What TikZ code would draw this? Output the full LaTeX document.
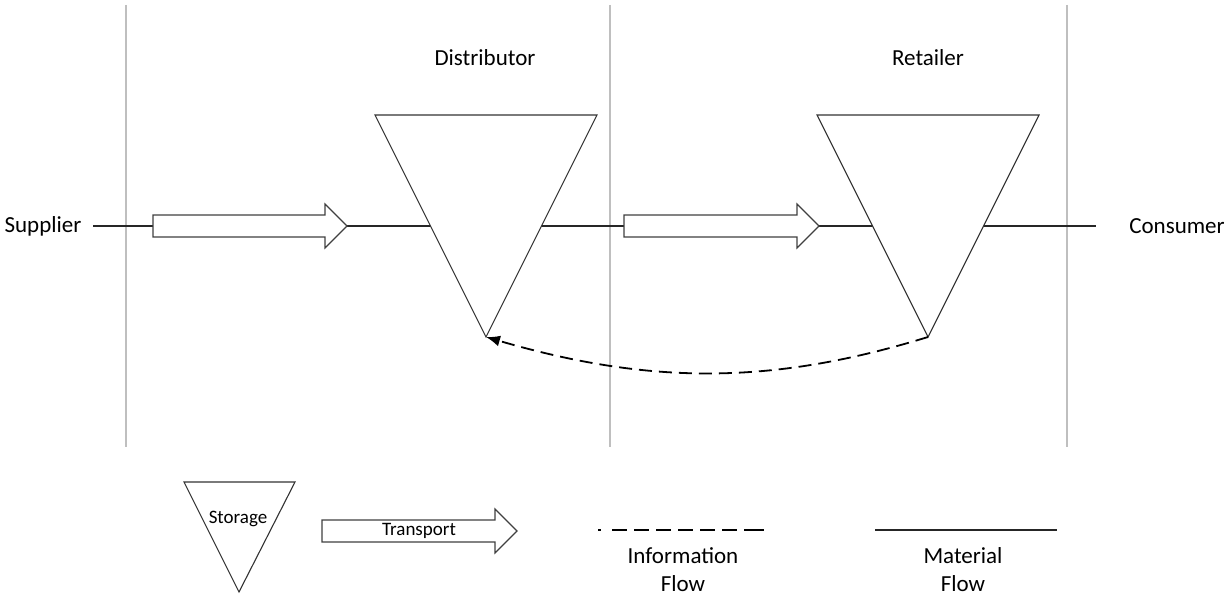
\documentclass[tikz,border=0pt]{standalone}
\usepackage{fontspec}
\setmainfont{Carlito}
\usetikzlibrary{arrows.meta}
% block arrow standing for a transport step: tail x, tip x, centre y
\newcommand\transportarrow[3]{%
  \draw[move] (#1,#3-11) -- (#2-22,#3-11) -- (#2-22,#3-22) -- (#2,#3)
    -- (#2-22,#3+22) -- (#2-22,#3+11) -- (#1,#3+11) -- cycle;}
\begin{document}
\begin{tikzpicture}[x=1pt,y=-1pt,
  lane/.style={draw=black!25, line width=1.6pt},
  flow/.style={draw=black!85, line width=1.8pt},
  stock/.style={draw=black!80, fill=white, line width=1.1pt, line join=miter},
  move/.style={draw=black!75, fill=white, line width=1.1pt},
  info/.style={draw=black, line width=1.8pt},
  lbl/.style={font=\fontsize{23}{28}\selectfont, inner sep=0pt, align=center},
  small/.style={font=\fontsize{19}{23}\selectfont, inner sep=0pt}]
\useasboundingbox (0,0) rectangle (1228,596);

% stage boundaries
\draw[lane] (126,5) coordinate (l1) -- (126,447);
\draw[lane] (610,5) coordinate (l2) -- (610,447);
\draw[lane] (1067,5) coordinate (l3) -- (1067,447);

% end points of the chain
\node[lbl] (sup) at (43,226) {Supplier};
\node[lbl] (con) at (1177,226) {Consumer};
\coordinate (mL) at (93,226);
\coordinate (mR) at (1096,226);

% material flow along the chain
\draw[flow] (mL) -- (mR);

% storage points
\draw[stock] (375,115) coordinate (dtl) -- (597,115) coordinate (dtr)
  -- (486,337) coordinate (db) -- cycle;
\draw[stock] (817,115) coordinate (rtl) -- (1039,115) coordinate (rtr)
  -- (928,337) coordinate (rb) -- cycle;
\node[lbl] (dist) at (485,58) {Distributor};
\node[lbl] (ret) at (928,58) {Retailer};

% transport steps
\transportarrow{153}{347}{226}
\transportarrow{624}{819}{226}

% information flow back from retailer to distributor
\draw[info, dash pattern=on 13pt off 7pt, -{Latex[length=14pt,width=11pt]}]
  (rb) .. controls (772,385) and (650,385) .. (db);

% legend
\draw[stock] (184,482) -- (295,482) -- (239,592) -- cycle;
\node[small] (stor) at (238,519) {Storage};
\transportarrow{322}{517}{531}
\node[small] (trans) at (419,531) {Transport};

\coordinate (iA) at (598,530);
\coordinate (iB) at (765,530);
\draw[info, dash pattern=on 3pt off 11pt on 15pt off 7pt on 15pt off 7pt on 15pt off 7pt
  on 15pt off 7pt on 15pt off 7pt on 15pt off 7pt on 20pt off 10pt] (iA) -- (iB);
\node[lbl] (infolbl) at (683,570) {Information\\Flow};

\coordinate (fA) at (875,530);
\coordinate (fB) at (1057,530);
\draw[flow] (fA) -- (fB);
\node[lbl] (matlbl) at (963,570) {Material\\Flow};
\end{tikzpicture}
\end{document}
